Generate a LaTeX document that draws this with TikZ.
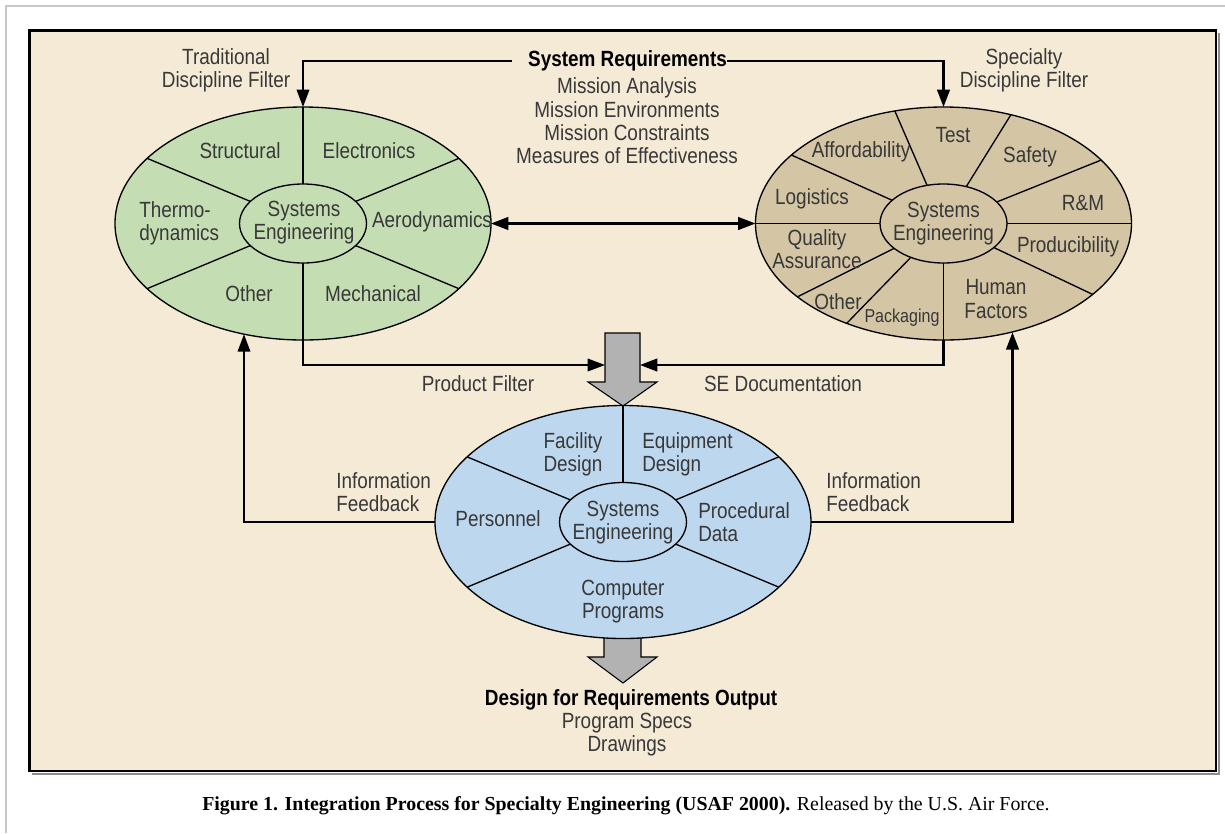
\documentclass[tikz,border=0pt]{standalone}
\usepackage{fontspec}
\setmainfont{Liberation Sans}[FakeStretch=0.86]
\newfontfamily\capfont{Liberation Serif}
\usetikzlibrary{shapes.geometric,arrows.meta,calc}
\definecolor{bgc}{HTML}{F5EAD6}
\definecolor{grn}{HTML}{C5DDB3}
\definecolor{tanc}{HTML}{D4C5A5}
\definecolor{blu}{HTML}{BDD7EE}
\definecolor{gra}{HTML}{B2B2B2}
\definecolor{txt}{HTML}{383838}
\newcommand\lblsize{\fontsize{16.5pt}{17.3pt}\selectfont}
\newcommand\smsize{\fontsize{14pt}{15pt}\selectfont}
\begin{document}
\begin{tikzpicture}[x=0.75pt,y=-0.75pt,
  lbl/.style={font=\lblsize, text=txt, inner sep=0pt, align=center},
  blbl/.style={font=\lblsize\bfseries, text=black, inner sep=0pt, align=center},
  outerell/.style={ellipse, draw=black, line width=1pt, minimum width=282pt, minimum height=174.75pt, inner sep=0pt, outer sep=0pt},
  innerell/.style={ellipse, draw=black, line width=1pt, minimum width=95.25pt, minimum height=59.25pt, inner sep=0pt, outer sep=0pt},
  spokel/.style={draw=black, line width=1pt},
  conn/.style={draw=black, line width=1pt},
  connb/.style={draw=black, line width=1.6pt},
  tip/.style={-{Triangle[length=13pt,width=9.5pt]}},
  tips/.style={{Triangle[length=13pt,width=9.5pt]}-{Triangle[length=13pt,width=9.5pt]}},
  garrow/.style={fill=gra, draw=black, line width=0.8pt, line join=miter}
]
\useasboundingbox (0,0) rectangle (1225,833);
\fill[white] (0,0) rectangle (1225,833);
% outer thin border
\draw[black!22, line width=1pt] (6,833) -- (6,6) -- (1225,6);
% frame
\fill[bgc] (29.5,30.5) rectangle (1216,771);
\draw[black!45, line width=1.5pt] (1218.5,33) -- (1218.5,773.5) -- (32,773.5);
\draw[black, line width=2pt] (29.5,30.5) rectangle (1216,771);

% grey arrows
\draw[garrow] (605,333) -- (640,333) -- (640,382) -- (657,382) -- (623,406) -- (588,382) -- (605,382) -- cycle;
\draw[garrow] (604,628) -- (641,628) -- (641,657) -- (657,657) -- (623,683) -- (588,657) -- (604,657) -- cycle;
\coordinate (gaL) at (605,365);
\coordinate (gaR) at (640,365);
\coordinate (Lfb) at (244,334.3);
\coordinate (Rfb) at (1012.5,332.3);

% left ellipse
\node[outerell, fill=grn] (Lo) at (303,223.5) {};
\foreach \a in {90,146,214,270,326,34}
  \draw[spokel] ($(Lo.center)+({188*cos(\a)},{-116.5*sin(\a)})$) -- ($(Lo.center)+({63.5*cos(\a)},{-39.5*sin(\a)})$);
\node[innerell, fill=grn] (Li) at (Lo.center) {};

% right ellipse
\node[outerell, fill=tanc] (Ro) at (943.5,223.5) {};
\foreach \a in {105,69,33,0,-37.5,270,239,219,180,144}
  \draw[spokel] ($(Ro.center)+({188*cos(\a)},{-116.5*sin(\a)})$) -- ($(Ro.center)+({63.5*cos(\a)},{-39.5*sin(\a)})$);
\node[innerell, fill=tanc] (Ri) at (Ro.center) {};

% bottom ellipse
\node[outerell, fill=blu] (Bo) at (623,522) {};
\foreach \a in {90,146,214,326,34}
  \draw[spokel] ($(Bo.center)+({188*cos(\a)},{-116.5*sin(\a)})$) -- ($(Bo.center)+({63.5*cos(\a)},{-39.5*sin(\a)})$);
\node[innerell, fill=blu] (Bi) at (Bo.center) {};

% top texts
\node[blbl] (SR) at (627.5,61) {System Requirements};
\node[lbl, font=\fontsize{16.5pt}{17.5pt}\selectfont] (SRlist) at (627,121) {Mission Analysis\\Mission Environments\\Mission Constraints\\Measures of Effectiveness};
\node[lbl] (TDF) at (226,70) {Traditional\\Discipline Filter};
\node[lbl] (SDF) at (1024,70) {Specialty\\Discipline Filter};

% connectors
\draw[conn, tip, shorten <=12pt] (SR.west) -| (Lo.north);
\draw[connb, tip] (SR.east) -| (Ro.north);
\draw[connb, tips] (Lo.east) -- (Ro.west);
\draw[conn, tip] (Lo.south) |- (gaL);
\draw[connb, tip] (Ro.south) |- (gaR);
\draw[conn, tip] (Bo.west) -| (Lfb);
\draw[connb, tip] (Bo.east) -| (Rfb);

% left labels
\node[lbl] (Lstr) at (240,151) {Structural};
\node[lbl] (Lele) at (369,151) {Electronics};
\node[lbl, align=left, anchor=west] (Lthe) at (139,223) {Thermo-\\dynamics};
\node[lbl] (Lse) at (304,223) {Systems\\Engineering};
\node[lbl] (Laer) at (432,222) {Aerodynamics};
\node[lbl] (Loth) at (249,294) {Other};
\node[lbl] (Lmec) at (373,294) {Mechanical};

% right labels
\node[lbl] (Rtest) at (953,135) {Test};
\node[lbl] (Raff) at (861,152) {Affordability};
\node[lbl] (Rsaf) at (1030,157) {Safety};
\node[lbl] (Rlog) at (812,199) {Logistics};
\node[lbl] (Rrm) at (1083,203) {R\&M};
\node[lbl] (Rqa) at (817,249) {Quality\\Assurance};
\node[lbl] (Rse) at (943.5,224) {Systems\\Engineering};
\node[lbl] (Rpro) at (1068,247) {Producibility};
\node[lbl] (Rhf) at (996,299) {Human\\Factors};
\node[lbl] (Roth) at (838,302) {Other};
\node[lbl, font=\smsize] (Rpack) at (902,318) {Packaging};

% middle labels
\node[lbl] (PF) at (478,384) {Product Filter};
\node[lbl] (SED) at (783,384) {SE Documentation};
\node[lbl, align=left, anchor=west] (IFL) at (336,492) {Information\\Feedback};
\node[lbl, align=left, anchor=west] (IFR) at (826,492) {Information\\Feedback};

% bottom labels
\node[lbl] (Bfac) at (573,454) {Facility\\Design};
\node[lbl, align=left, anchor=west] (Beq) at (642,454) {Equipment\\Design};
\node[lbl] (Bper) at (498,519) {Personnel};
\node[lbl] (Bse) at (623,523) {Systems\\Engineering};
\node[lbl, align=left, anchor=west] (Bpro) at (698,522) {Procedural\\Data};
\node[lbl] (Bcomp) at (623,602) {Computer\\Programs};

% output
\node[blbl] (DRO) at (631,700) {Design for Requirements Output};
\node[lbl] (OUT) at (627,735) {Program Specs\\Drawings};

% caption
\node[font=\capfont\fontsize{14.9pt}{16.5pt}\selectfont, inner sep=0pt] (cap) at (626,806) {\textbf{Figure 1. Integration Process for Specialty Engineering (USAF 2000).} Released by the U.S. Air Force.};
\end{tikzpicture}
\end{document}
